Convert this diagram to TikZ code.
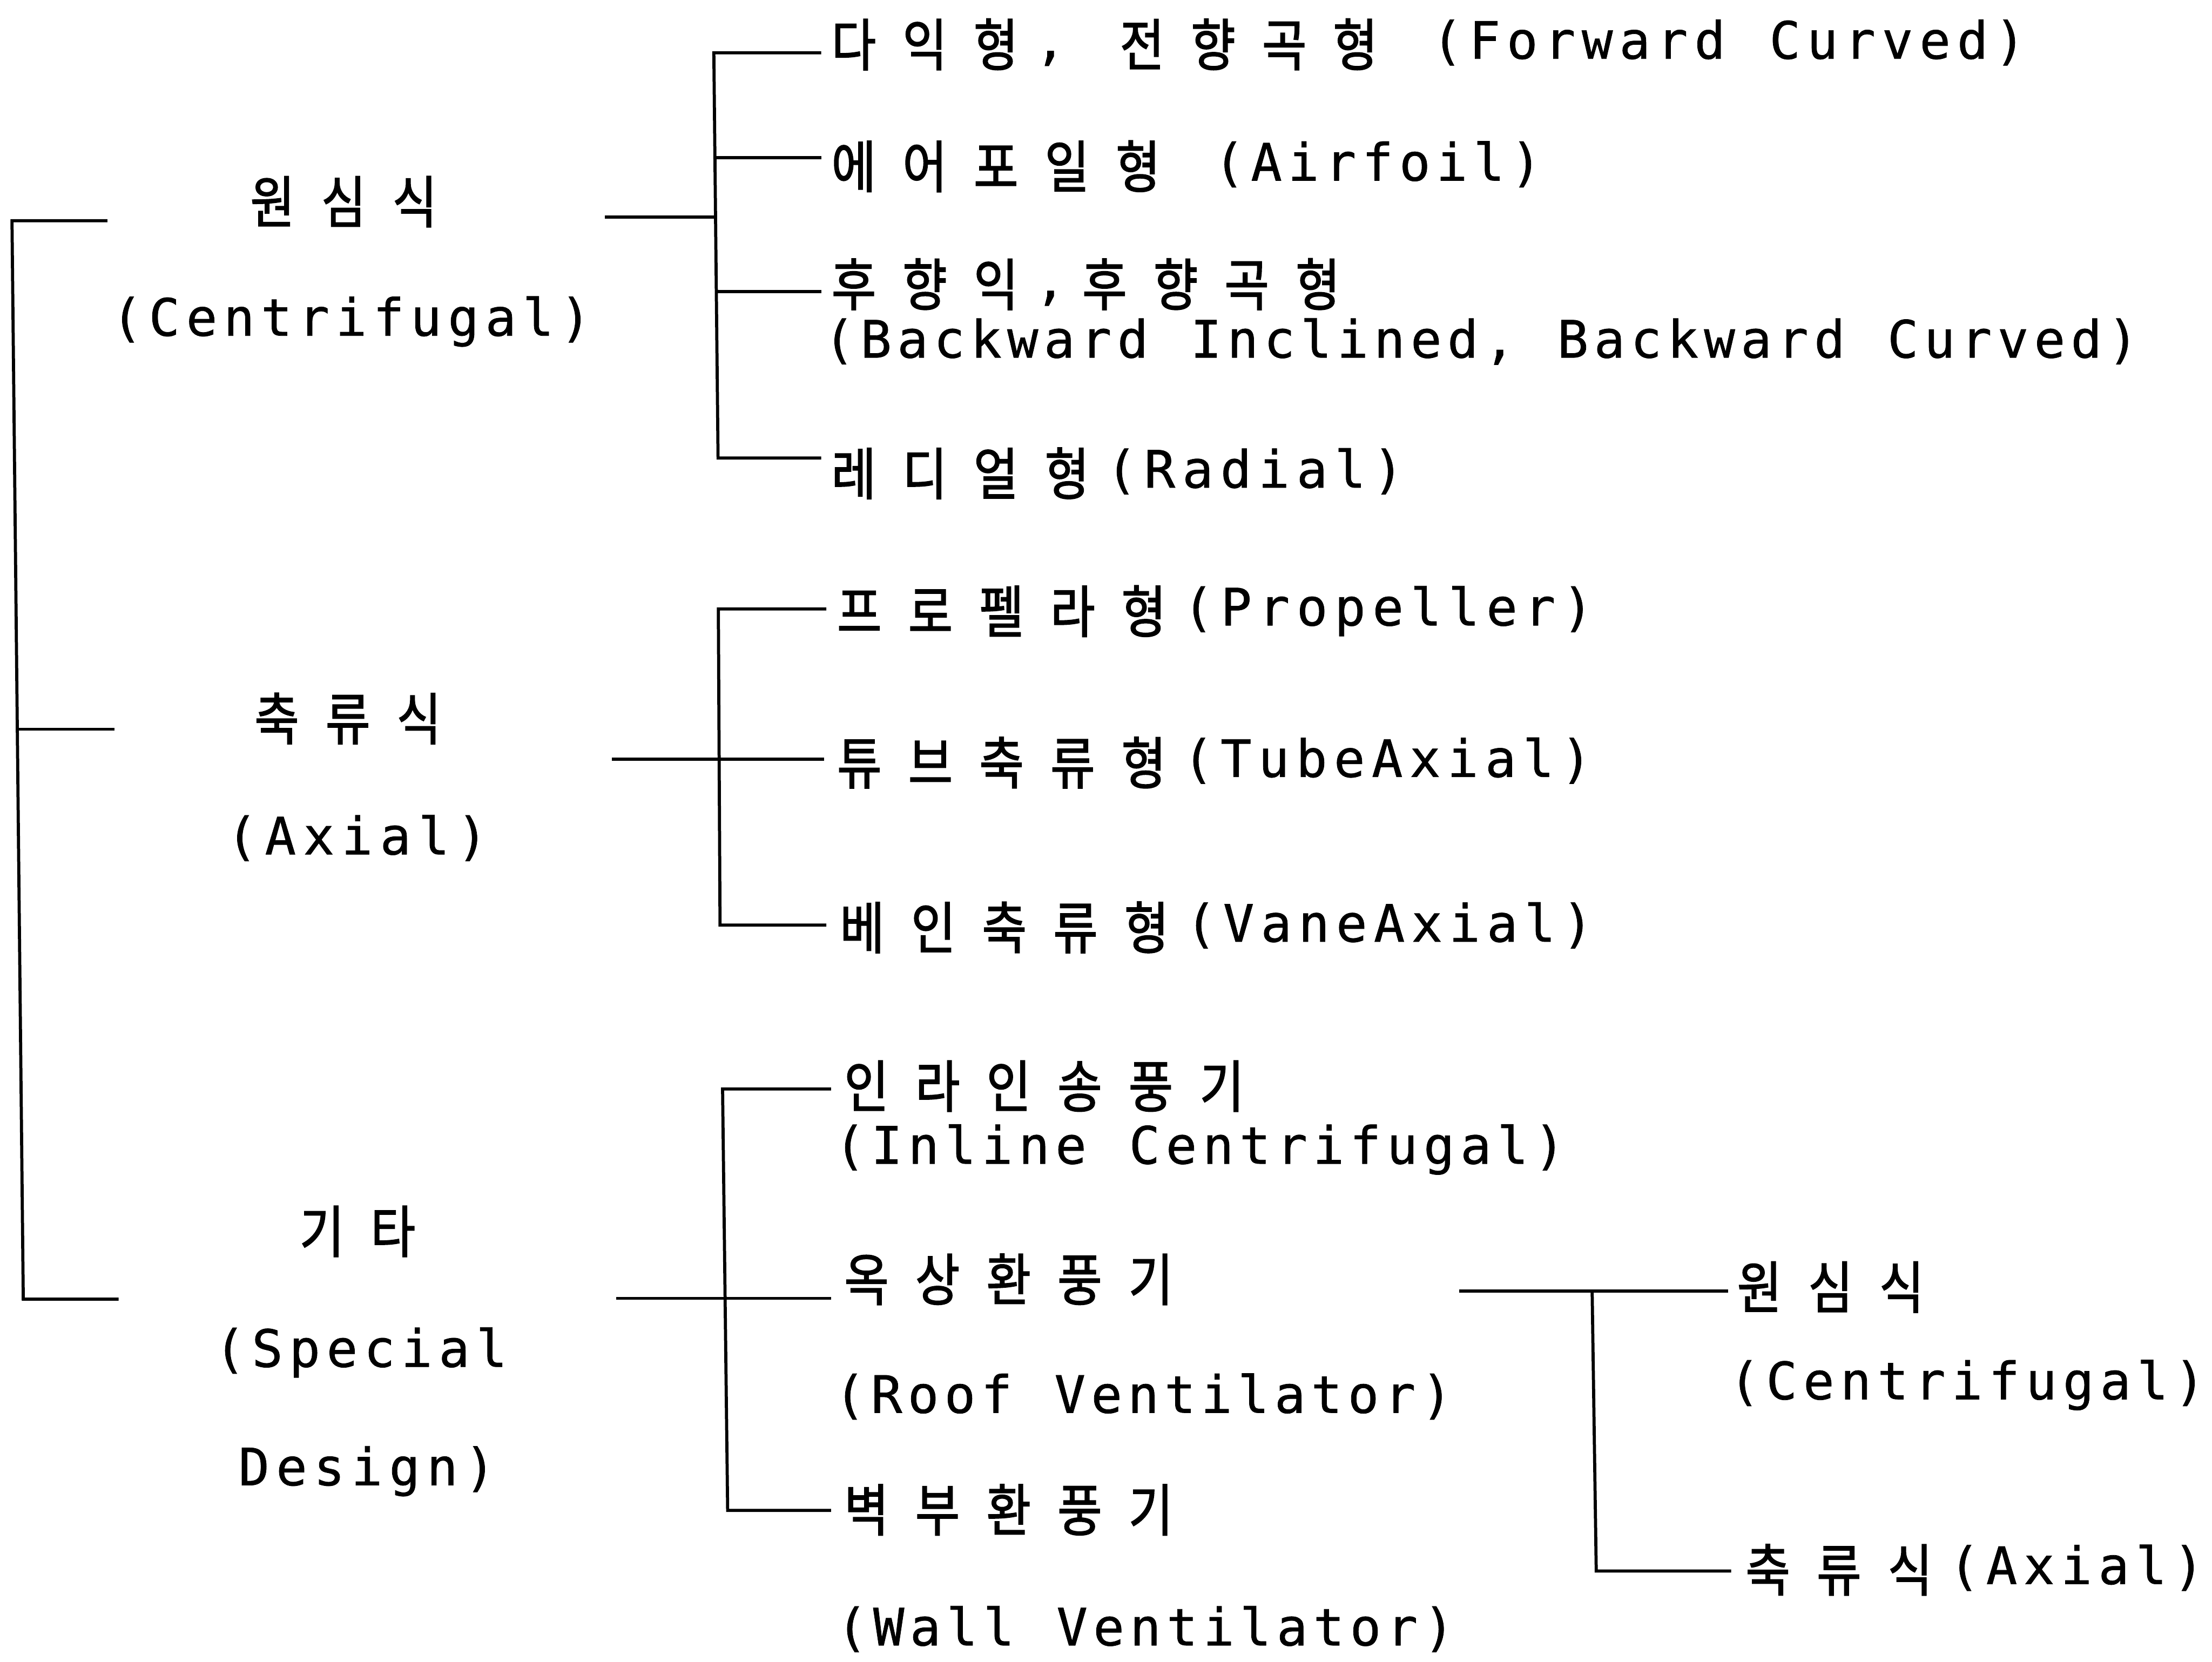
\documentclass[tikz,border=0pt]{standalone}
\usepackage{fontspec}
\newfontfamily\kfontfam{Noto Sans CJK KR}[FakeStretch=0.86,FakeBold=1.6]
\newfontfamily\lfontfam{DejaVu Sans Mono}[FakeBold=0.8]
\newcommand\kfont{\kfontfam\fontsize{40}{42}\selectfont}
\newcommand\lfont{\lfontfam\fontsize{36.5}{40}\selectfont}
\ExplSyntaxOn
\dim_new:N \l_gridt_k_dim
\dim_new:N \l_gridt_l_dim
\dim_set:Nn \l_gridt_k_dim {50.4pt}
\NewDocumentCommand \gridt { O{26.6pt} m }
 {
  \dim_set:Nn \l_gridt_l_dim {#1}
  \str_map_inline:nn {#2}
   {
    \int_compare:nNnTF { `##1 } > { 4000 }
     { \hbox_to_wd:nn { \l_gridt_k_dim } { \hss \raisebox{-5pt}{\kfont ##1} \hss } }
     { \hbox_to_wd:nn { \l_gridt_l_dim } { \hss \lfont ##1 \hss } }
   }
 }
\ExplSyntaxOff
\tikzset{
  txt/.style={anchor=base west, inner sep=0pt, outer sep=0pt},
  ln/.style={line width=2.2pt, line join=miter, line cap=rect}
}
\begin{document}
\begin{tikzpicture}[x=1pt,y=-1pt]
\useasboundingbox[fill=white] (0,0) rectangle (1568,1178);

% ---- main labels
\node[txt] (m1a) at (168,153) {\gridt{원심식}};
\node[txt] (m1b) at (76.8,238) {\gridt[26.5pt]{(Centrifugal)}};
\node[txt] (m2a) at (171,519.5) {\gridt{축류식}};
\node[txt] (m2b) at (158,605.7) {\gridt[27.2pt]{(Axial)}};
\node[txt] (m3a) at (203,883) {\gridt{기타}};
\node[txt] (m3b) at (149.8,969) {\gridt[26.5pt]{(Special}};
\node[txt] (m3c) at (166.7,1053) {\gridt[26.7pt]{Design)}};

% ---- centrifugal group
\node[txt] (a) at (580,41.6) {\gridt[26.6pt]{다익형, 전향곡형 (Forward Curved)}};
\node[txt] (b) at (580,128) {\gridt[26.3pt]{에어포일형 (Airfoil)}};
\node[txt] (c1) at (580,211.6) {\gridt[26.6pt]{후향익,후향곡형}};
\node[txt] (c2) at (582,253.5) {\gridt[26.0pt]{(Backward Inclined, Backward Curved)}};
\node[txt] (d) at (580,345.7) {\gridt[27pt]{레디얼형(Radial)}};

% ---- axial group
\node[txt] (e) at (584,443.4) {\gridt[26.9pt]{프로펠라형(Propeller)}};
\node[txt] (f) at (584,550.8) {\gridt[26.8pt]{튜브축류형(TubeAxial)}};
\node[txt] (g) at (586,667.6) {\gridt[26.7pt]{베인축류형(VaneAxial)}};

% ---- special group
\node[txt] (h1) at (589,780) {\gridt{인라인송풍기}};
\node[txt] (h2) at (589.5,825) {\gridt[26.1pt]{(Inline Centrifugal)}};
\node[txt] (i1) at (589,917) {\gridt{옥상환풍기}};
\node[txt] (i2) at (589.5,1001.6) {\gridt[26.0pt]{(Roof Ventilator)}};
\node[txt] (j1) at (589,1080.4) {\gridt{벽부환풍기}};
\node[txt] (j2) at (591,1166.5) {\gridt[26.0pt]{(Wall Ventilator)}};

% ---- roof ventilator sub-types
\node[txt] (r1a) at (1222,922.5) {\gridt{원심식}};
\node[txt] (r1b) at (1223.5,992) {\gridt[26.3pt]{(Centrifugal)}};
\node[txt] (r2) at (1228,1123) {\gridt[26.5pt]{축류식(Axial)}};

% ---- main bracket
\coordinate (mT) at (8.5,156.5);  \coordinate (mTe) at (75,156.5);
\coordinate (mM) at (13.6,517);   \coordinate (mMe) at (80,517);
\coordinate (mB) at (16.5,921);   \coordinate (mBe) at (83,921);
\draw[ln] (mTe) -- (mT) -- (mB) -- (mBe);
\draw[ln] (mM) -- (mMe);

% ---- bracket 1 (centrifugal)
\coordinate (s1in) at (430,154);   \coordinate (s1j) at (507.2,154);
\coordinate (s1t) at (506,37.4);   \coordinate (s1aE) at (581,37.4);
\coordinate (s1b) at (506.8,111.7);\coordinate (s1bE) at (581,111.7);
\coordinate (s1c) at (507.8,206.7);\coordinate (s1cE) at (581,206.7);
\coordinate (s1d) at (509,324.7);  \coordinate (s1dE) at (581,324.7);
\draw[ln] (s1aE) -- (s1t) -- (s1d) -- (s1dE);
\draw[ln] (s1in) -- (s1j);
\draw[ln] (s1b) -- (s1bE);
\draw[ln] (s1c) -- (s1cE);

% ---- bracket 2 (axial)
\coordinate (s2t) at (509.2,431.7); \coordinate (s2tE) at (584.6,431.7);
\coordinate (s2d) at (510.4,655.8); \coordinate (s2dE) at (584.6,655.8);
\coordinate (s2in) at (435,538.3);  \coordinate (s2mE) at (583,538.3);
\draw[ln] (s2tE) -- (s2t) -- (s2d) -- (s2dE);
\draw[ln] (s2in) -- (s2mE);

% ---- bracket 3 (special)
\coordinate (s3t) at (512.2,772);   \coordinate (s3tE) at (588,772);
\coordinate (s3d) at (515.8,1070.8);\coordinate (s3dE) at (588,1070.8);
\coordinate (s3in) at (438,920.5);  \coordinate (s3mE) at (588,920.5);
\draw[ln] (s3tE) -- (s3t) -- (s3d) -- (s3dE);
\draw[ln] (s3in) -- (s3mE);

% ---- bracket 4 (roof ventilator)
\coordinate (s4in) at (1035.5,915.3); \coordinate (s4tE) at (1224,915.3);
\coordinate (s4j) at (1128.6,915.3);
\coordinate (s4d) at (1131.5,1113.8); \coordinate (s4dE) at (1226,1113.8);
\draw[ln] (s4in) -- (s4tE);
\draw[ln] (s4j) -- (s4d) -- (s4dE);
\end{tikzpicture}
\end{document}
